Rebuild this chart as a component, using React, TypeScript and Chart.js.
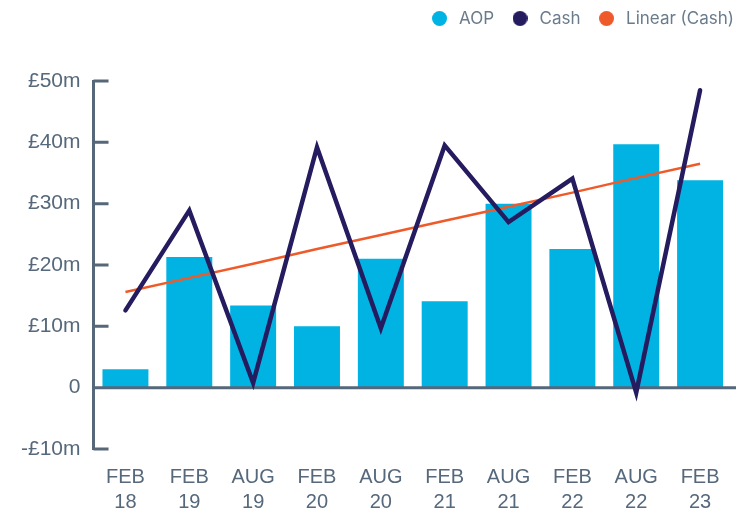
import React, { useEffect, useRef } from "react";
import { Chart, registerables } from "chart.js";

Chart.register(...registerables);

const categories: string[][] = [
  ["FEB", "18"], ["FEB", "19"], ["AUG", "19"], ["FEB", "20"], ["AUG", "20"],
  ["FEB", "21"], ["AUG", "21"], ["FEB", "22"], ["AUG", "22"], ["FEB", "23"],
];
const aopValues = [3.0, 21.3, 13.4, 10.0, 21.0, 14.1, 30.0, 22.6, 39.7, 33.8];
const cashValues = [12.6, 28.9, 0.8, 39.2, 9.7, 39.5, 27.0, 34.1, -0.8, 48.5];
const linearCashValues = [15.6, 17.9, 20.2, 22.6, 24.9, 27.2, 29.5, 31.8, 34.2, 36.5];
const seriesNames = ["AOP", "Cash", "Linear (Cash)"];
const yMin = -10;
const yMax = 50;
const yStep = 10;

const AOP_COLOR = "#00b3e2";
const CASH_COLOR = "#251b5f";
const LINEAR_COLOR = "#ef5a2a";
const AXIS_COLOR = "#566779";
const TICK_TEXT = "#56687b";
const LEGEND_TEXT = "#6a7b8c";

function dot(color: string): HTMLCanvasElement {
  const cv = document.createElement("canvas");
  cv.width = 15;
  cv.height = 15;
  const c = cv.getContext("2d")!;
  c.fillStyle = color;
  c.beginPath();
  c.arc(7.5, 7.5, 7.5, 0, Math.PI * 2);
  c.fill();
  return cv;
}

export default function App() {
  const ref = useRef<HTMLCanvasElement>(null);

  useEffect(() => {
    document.body.style.margin = "0";
    const canvas = ref.current;
    if (!canvas) return;

    const decor = {
      id: "decor",
      afterInit(chart: any) {
        const lg = chart.legend;
        if (lg) {
          const orig = lg.fit.bind(lg);
          lg.fit = function () {
            orig();
            this.height += 39;
          };
        }
      },
      afterLayout(chart: any) {
        const lg = chart.legend;
        if (lg) {
          lg.left += 17;
          lg.right += 17;
          lg.top -= 5;
          lg.bottom -= 5;
        }
      },
      afterDatasetDraw(chart: any, args: any) {
        if (args.index !== 0) return;
        const y = chart.scales.y;
        const ctx = chart.ctx;
        const left = chart.chartArea.left;
        ctx.save();
        ctx.strokeStyle = AXIS_COLOR;
        ctx.lineWidth = 3;
        ctx.beginPath();
        y.ticks.forEach((t: any) => {
          const py = y.getPixelForValue(t.value);
          ctx.moveTo(left, py);
          ctx.lineTo(left + 15, py);
        });
        const z = y.getPixelForValue(0);
        ctx.moveTo(left, z);
        ctx.lineTo(chart.width, z);
        ctx.stroke();
        ctx.restore();
      },
    };

    const colors = [AOP_COLOR, CASH_COLOR, LINEAR_COLOR];

    const chart = new Chart(canvas, {
      type: "bar",
      data: {
        labels: categories,
        datasets: [
          {
            type: "bar",
            label: seriesNames[0],
            data: aopValues,
            backgroundColor: AOP_COLOR,
            barPercentage: 0.72,
            categoryPercentage: 1,
            order: 3,
          },
          {
            type: "line",
            label: seriesNames[1],
            data: cashValues,
            borderColor: CASH_COLOR,
            backgroundColor: CASH_COLOR,
            borderWidth: 4.5,
            pointRadius: 0,
            tension: 0,
            borderCapStyle: "round",
            borderJoinStyle: "miter",
            order: 1,
          },
          {
            type: "line",
            label: seriesNames[2],
            data: linearCashValues,
            borderColor: LINEAR_COLOR,
            backgroundColor: LINEAR_COLOR,
            borderWidth: 2.5,
            pointRadius: 0,
            tension: 0,
            order: 2,
          },
        ] as any,
      },
      options: {
        animation: false,
        responsive: false,
        maintainAspectRatio: false,
        layout: { padding: { left: 8, right: 4, top: 0, bottom: 0 } },
        plugins: {
          tooltip: { enabled: false },
          legend: {
            display: true,
            position: "top",
            align: "end",
            labels: {
              usePointStyle: true,
              pointStyleWidth: 22,
              boxHeight: 15,
              padding: 15,
              color: LEGEND_TEXT,
              font: { family: "Inter", size: 17 },
              sort: (a: any, b: any) => a.datasetIndex - b.datasetIndex,
              generateLabels(ch: any) {
                const items = Chart.defaults.plugins.legend.labels.generateLabels(ch);
                return items.map((it: any) => ({
                  ...it,
                  pointStyle: dot(colors[it.datasetIndex]),
                  lineWidth: 0,
                }));
              },
            },
          },
        },
        scales: {
          x: {
            offset: true,
            grid: { display: false, drawTicks: false },
            border: { display: false },
            afterFit: (s: any) => {
              s.height = 62;
            },
            ticks: {
              autoSkip: false,
              maxRotation: 0,
              minRotation: 0,
              padding: 16,
              color: TICK_TEXT,
              font: { family: "Liberation Sans", size: 20, lineHeight: 1.25 },
            },
          },
          y: {
            min: yMin,
            max: yMax,
            grid: { display: false, drawTicks: false },
            border: { display: true, color: AXIS_COLOR, width: 3 },
            ticks: {
              stepSize: yStep,
              padding: 13,
              color: TICK_TEXT,
              font: { family: "Liberation Sans", size: 21 },
              callback: (v: any) => {
                const n = Number(v);
                if (n === 0) return "0";
                return (n < 0 ? "-£" : "£") + Math.abs(n) + "m";
              },
            },
          },
        },
      },
      plugins: [decor],
    });

    return () => chart.destroy();
  }, []);

  return (
    <div style={{ position: "absolute", left: 0, top: 0, width: 736, height: 511 }}>
      <canvas ref={ref} width={736} height={511} style={{ display: "block" }} />
    </div>
  );
}
